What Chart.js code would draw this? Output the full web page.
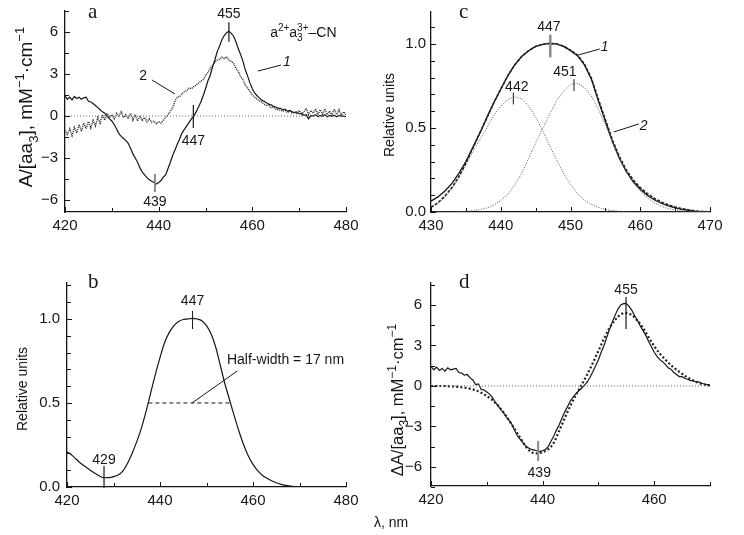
<!DOCTYPE html>
<html><head><meta charset="utf-8">
<script src="https://cdn.jsdelivr.net/npm/chart.js@4/dist/chart.umd.min.js"></script>
<style>
html,body{margin:0;padding:0;background:#fff;}
#wrap{position:relative;width:744px;height:535px;overflow:hidden;background:#fff;}
canvas{position:absolute;}
</style></head><body>
<div id="wrap">
<canvas id="ca" width="372" height="268" style="left:0;top:0;width:372px;height:268px"></canvas>
<canvas id="cc" width="372" height="268" style="left:372px;top:0;width:372px;height:268px"></canvas>
<canvas id="cb" width="372" height="267" style="left:0;top:268px;width:372px;height:267px"></canvas>
<canvas id="cd" width="372" height="267" style="left:372px;top:268px;width:372px;height:267px"></canvas>
</div>
<script>
// ---------------- DATA ----------------
// Panel a: difference spectra, 0.5 nm grid
const wlA = [420,420.5,421,421.5,422,422.5,423,423.5,424,424.5,425,425.5,426,426.5,427,427.5,428,428.5,429,429.5,430,430.5,431,431.5,432,432.5,433,433.5,434,434.5,435,435.5,436,436.5,437,437.5,438,438.5,439,439.5,440,440.5,441,441.5,442,442.5,443,443.5,444,444.5,445,445.5,446,446.5,447,447.5,448,448.5,449,449.5,450,450.5,451,451.5,452,452.5,453,453.5,454,454.5,455,455.5,456,456.5,457,457.5,458,458.5,459,459.5,460,460.5,461,461.5,462,462.5,463,463.5,464,464.5,465,465.5,466,466.5,467,467.5,468,468.5,469,469.5,470,470.5,471,471.5,472,472.5,473,473.5,474,474.5,475,475.5,476,476.5,477,477.5,478,478.5,479,479.5,480];
const curveA1 = [1.45,1.2,1.35,1.15,1.4,1.25,1.35,1.2,1.3,1.35,
1.05,1.0,0.9,0.75,0.6,0.45,0.3,0.2,0.0,-0.2,
-0.35,-0.6,-0.9,-1.25,-1.45,-1.6,-1.75,-1.95,-2.3,-2.7,
-3.0,-3.3,-3.7,-4.0,-4.2,-4.4,-4.55,-4.65,-4.75,-4.85,
-4.75,-4.6,-4.35,-4.2,-3.75,-3.3,-2.8,-2.4,-2.0,-1.6,
-1.2,-0.95,-0.7,-0.45,-0.2,0.0,0.3,0.65,1.0,1.45,
1.95,2.5,2.9,3.5,4.0,4.6,5.0,5.45,5.75,5.95,
6.05,5.9,5.7,5.3,4.8,4.4,3.9,3.3,2.85,2.35,
1.95,1.65,1.45,1.3,1.15,1.05,0.95,0.85,0.8,0.7,
0.65,0.55,0.55,0.45,0.5,0.35,0.4,0.3,0.25,0.3,
0.15,0.2,0.05,0.1,-0.2,0.05,0.0,0.1,-0.05,0.05,
0.0,0.1,-0.05,0.05,0.0,0.05,-0.05,0.05,0.0,0.0,
-0.05];
const curveA2 = [-1.0,-1.3,-0.9,-1.4,-0.8,-1.2,-0.6,-1.1,-0.5,-0.9,
-0.4,-0.85,-0.3,-0.7,-0.1,-0.5,0.1,-0.3,0.2,-0.1,
0.1,-0.2,0.2,0.0,0.3,-0.1,0.1,-0.2,0.2,-0.3,
0.1,-0.35,0.0,-0.3,-0.1,-0.4,-0.2,-0.45,-0.35,-0.55,
-0.4,-0.5,-0.3,-0.1,0.1,0.35,0.6,1.1,1.35,1.4,
1.6,1.75,1.8,2.0,1.95,2.1,2.2,2.35,2.5,2.6,
2.9,3.1,3.4,3.6,3.85,4.0,4.05,4.2,4.1,4.25,
4.0,3.9,3.75,3.4,3.2,2.8,2.6,2.2,2.0,1.75,
1.5,1.35,1.2,1.1,1.0,0.85,0.75,0.8,0.6,0.65,
0.5,0.45,0.4,0.35,0.4,0.25,0.35,0.2,0.3,0.15,
0.4,0.1,0.3,0.55,0.1,0.4,0.2,0.5,0.1,0.45,
0.15,0.5,0.1,0.35,0.05,0.5,0.1,0.45,0.05,0.3,
0.1];
const zeroAx = [420, 480], zeroAy = [0, 0];
const xTicksA = [420, 440, 460, 480], xMinorA = [430, 450, 470];
const yTicksA = [-6, -3, 0, 3, 6], yMinorA = [-4.5, -1.5, 1.5, 4.5, 7.5];

// Panel b: single band, 1 nm grid
const wlB = [420,421,422,423,424,425,426,427,428,429,430,431,432,433,434,435,436,437,438,439,440,441,442,443,444,445,446,447,448,449,450,451,452,453,454,455,456,457,458,459,460,461,462,463,464,465,466,467,468,469,470,471,472,473,474,475,476,477,478,479,480];
const curveB = [0.21,0.19,0.165,0.14,0.12,0.1,0.082,0.065,0.055,0.056,
0.062,0.072,0.095,0.14,0.2,0.27,0.35,0.45,0.56,0.67,
0.77,0.86,0.92,0.96,0.985,0.997,1.0,1.003,1.0,0.99,
0.96,0.91,0.83,0.72,0.61,0.515,0.42,0.33,0.25,0.185,
0.135,0.097,0.07,0.052,0.037,0.025,0.016,0.01,0.006,0.003,
0.001,0,0,0,0,0,0,0,0,0,
0];
const halfWidthX = [437.5, 455.3], halfWidthY = [0.5, 0.5];
const xTicksB = [420, 440, 460, 480], xMinorB = [430, 450, 470];
const yTicksB = [0, 0.5, 1.0], yMinorB = [0.1,0.2,0.3,0.4,0.6,0.7,0.8,0.9,1.1,1.2];

// Panel c: band and its two gaussian components, 1 nm grid
const wlC = [430,431,432,433,434,435,436,437,438,439,440,441,442,443,444,445,446,447,448,449,450,451,452,453,454,455,456,457,458,459,460,461,462,463,464,465,466,467,468,469,470];
const curveC1 = [0.065,0.09,0.125,0.17,0.23,0.30,0.385,0.47,0.56,0.65,
0.73,0.81,0.875,0.925,0.96,0.985,0.997,1.003,1.0,0.985,
0.96,0.93,0.875,0.79,0.66,0.54,0.42,0.32,0.24,0.18,
0.135,0.1,0.073,0.052,0.036,0.024,0.015,0.009,0.004,0.002,
0];
const curveC2 = [0.028,0.055,0.095,0.145,0.21,0.29,0.38,0.47,0.56,0.65,
0.73,0.81,0.875,0.925,0.96,0.985,0.997,1.003,1.0,0.987,
0.963,0.935,0.88,0.795,0.67,0.55,0.43,0.33,0.25,0.19,
0.145,0.11,0.082,0.06,0.043,0.03,0.02,0.012,0.006,0.003,
0.001];
const comp442 = [0.025,0.05,0.09,0.14,0.2,0.28,0.36,0.43,0.5,0.575,
0.63,0.67,0.685,0.675,0.63,0.565,0.485,0.395,0.31,0.23,
0.165,0.11,0.07,0.045,0.027,0.015,0.008,0.004,0.002,0.001,
0,0,0,0,0,0,0,0,0,0,
0];
const comp451 = [0,0,0,0,0.001,0.004,0.007,0.014,0.024,0.041,
0.067,0.104,0.16,0.23,0.32,0.41,0.495,0.58,0.66,0.72,
0.76,0.765,0.74,0.69,0.61,0.52,0.42,0.32,0.24,0.175,
0.125,0.085,0.055,0.034,0.02,0.012,0.006,0.003,0.001,0,
0];
const xTicksC = [430, 440, 450, 460, 470], xMinorC = [435, 445, 455, 465];
const yTicksC = [0, 0.5, 1.0], yMinorC = [0.1,0.2,0.3,0.4,0.6,0.7,0.8,0.9,1.1];

// Panel d: experimental difference spectrum (0.5 nm) and its fit (1 nm)
const wlD = [420,420.5,421,421.5,422,422.5,423,423.5,424,424.5,425,425.5,426,426.5,427,427.5,428,428.5,429,429.5,430,430.5,431,431.5,432,432.5,433,433.5,434,434.5,435,435.5,436,436.5,437,437.5,438,438.5,439,439.5,440,440.5,441,441.5,442,442.5,443,443.5,444,444.5,445,445.5,446,446.5,447,447.5,448,448.5,449,449.5,450,450.5,451,451.5,452,452.5,453,453.5,454,454.5,455,455.5,456,456.5,457,457.5,458,458.5,459,459.5,460,460.5,461,461.5,462,462.5,463,463.5,464,464.5,465,465.5,466,466.5,467,467.5,468,468.5,469,469.5,470];
const curveD1 = [1.45,1.2,1.4,1.15,1.3,1.1,1.35,1.2,1.25,1.3,
1.0,0.95,0.8,0.85,0.6,0.45,0.1,0.15,-0.25,-0.3,
-0.45,-0.6,-0.85,-1.2,-1.45,-1.75,-2.0,-2.3,-2.55,-2.85,
-3.3,-3.7,-3.95,-4.2,-4.45,-4.6,-4.7,-4.75,-4.8,-4.85,
-4.8,-4.7,-4.5,-4.1,-3.7,-3.25,-2.85,-2.35,-1.9,-1.5,
-1.1,-0.8,-0.55,-0.35,-0.15,0.05,0.3,0.65,1.05,1.5,
1.95,2.5,3.0,3.6,4.2,4.75,5.25,5.7,6.0,6.1,
6.1,5.9,5.6,5.2,4.85,4.45,4.1,3.75,3.3,2.9,
2.5,2.2,1.95,1.8,1.6,1.35,1.25,1.0,0.85,0.7,
0.7,0.55,0.5,0.4,0.4,0.3,0.3,0.2,0.15,0.1,
0.05];
const wlD1 = [420,421,422,423,424,425,426,427,428,429,430,431,432,433,434,435,436,437,438,439,440,441,442,443,444,445,446,447,448,449,450,451,452,453,454,455,456,457,458,459,460,461,462,463,464,465,466,467,468,469,470];
const fitD = [0.0,0.0,0.0,-0.02,-0.04,-0.07,-0.12,-0.2,-0.32,-0.5,
-0.75,-1.05,-1.45,-1.95,-2.55,-3.2,-3.85,-4.5,-4.9,-5.0,
-4.9,-4.7,-4.2,-3.3,-2.35,-1.45,-0.65,0.1,0.85,1.7,
2.6,3.5,4.3,4.9,5.3,5.4,5.25,4.85,4.3,3.6,
2.95,2.4,1.95,1.55,1.2,0.9,0.62,0.4,0.22,0.1,
0.04];
const zeroDx = [420, 470], zeroDy = [0, 0];
const xTicksD = [420, 440, 460], xMinorD = [430, 450, 470];
const yTicksD = [-6, -3, 0, 3, 6], yMinorD = [-7.5, -4.5, -1.5, 1.5, 4.5, 7.5];

// ---------------- RENDERING ----------------
const SANS = '"Liberation Sans", Arial, Helvetica, sans-serif';
const SERIF = '"Liberation Serif", "Times New Roman", serif';
const INK = '#161616';
const zip = (xs, ys) => xs.map((x, i) => ({x: x, y: ys[i]}));

function richRun(ctx, segs, x, y, size, draw) {
  const big = size + 'px ' + SANS, small = Math.round(size * 0.7) + 'px ' + SANS;
  let cx = x;
  for (const [t, m] of segs) {
    if (m === 'ss') {
      ctx.font = small;
      const w = Math.max(ctx.measureText(t[0]).width, ctx.measureText(t[1]).width);
      if (draw) { ctx.fillText(t[0], cx, y + size * 0.3); ctx.fillText(t[1], cx, y - size * 0.42); }
      cx += w;
    } else if (m === 'sup' || m === 'sub') {
      ctx.font = small;
      if (draw) ctx.fillText(t, cx, y + (m === 'sup' ? -size * 0.42 : size * 0.3));
      cx += ctx.measureText(t).width;
    } else {
      ctx.font = big;
      if (draw) ctx.fillText(t, cx, y);
      cx += ctx.measureText(t).width;
    }
  }
  return cx - x;
}

function annotPlugin(A) {
  return {
    id: 'annot',
    afterDraw(chart) {
      const ctx = chart.ctx, area = chart.chartArea;
      const xs = chart.scales.x, ys = chart.scales.y;
      const X = v => xs.getPixelForValue(v), Y = v => ys.getPixelForValue(v);
      ctx.save();
      ctx.strokeStyle = INK; ctx.fillStyle = INK; ctx.lineWidth = 1;
      // inward tick marks
      const xt = (arr, len) => arr.forEach(v => { const p = Math.round(X(v)) + 0.5; ctx.beginPath(); ctx.moveTo(p, area.bottom); ctx.lineTo(p, area.bottom - len); ctx.stroke(); });
      const yt = (arr, len) => arr.forEach(v => { const p = Math.round(Y(v)) + 0.5; ctx.beginPath(); ctx.moveTo(area.left, p); ctx.lineTo(area.left + len, p); ctx.stroke(); });
      xt(A.xMaj, 5); xt(A.xMin, 4); yt(A.yMaj, 5); yt(A.yMin, 4);
      // peak markers
      (A.markers || []).forEach(m => {
        ctx.strokeStyle = m.c || INK; ctx.lineWidth = m.w || 1.2;
        ctx.beginPath(); ctx.moveTo(X(m.x), Y(m.y1)); ctx.lineTo(X(m.x), Y(m.y2)); ctx.stroke();
      });
      // leader lines
      ctx.strokeStyle = INK; ctx.lineWidth = 1;
      (A.leaders || []).forEach(l => {
        ctx.beginPath(); ctx.moveTo(X(l.x1), Y(l.y1)); ctx.lineTo(X(l.x2), Y(l.y2)); ctx.stroke();
      });
      // numeric / curve labels
      ctx.textBaseline = 'middle';
      (A.labels || []).forEach(l => {
        ctx.font = (l.it ? 'italic ' : '') + (l.s || 14) + 'px ' + SANS;
        ctx.textAlign = l.al || 'center';
        ctx.fillText(l.t, X(l.x), Y(l.y));
      });
      ctx.textAlign = 'left'; ctx.textBaseline = 'alphabetic';
      // rich inline text
      (A.rich || []).forEach(r => richRun(ctx, r.segs, X(r.x), Y(r.y), r.s || 14, true));
      // panel letter
      if (A.letter) {
        ctx.font = '21px ' + SERIF;
        ctx.fillText(A.letter.t, X(A.letter.x), Y(A.letter.y));
      }
      // y axis title (rotated)
      if (A.yTitle) {
        const t = A.yTitle;
        const w = richRun(ctx, t.segs, 0, 0, t.s, false);
        ctx.save();
        ctx.translate(t.cx, t.cy);
        ctx.rotate(-Math.PI / 2);
        richRun(ctx, t.segs, -w / 2, t.s * 0.36, t.s, true);
        ctx.restore();
      }
      // free text (x axis title)
      (A.texts || []).forEach(t => {
        ctx.font = (t.s || 14) + 'px ' + SANS;
        ctx.fillText(t.t, t.px, t.py);
      });
      ctx.restore();
    }
  };
}

function makeChart(id, o) {
  const minus = v => (v < 0 ? '\u2212' + Math.abs(v) : String(v));
  return new Chart(document.getElementById(id), {
    type: 'line',
    data: {datasets: o.datasets},
    options: {
      responsive: false, animation: false, devicePixelRatio: 1,
      layout: {padding: o.pad},
      events: [],
      plugins: {legend: {display: false}, tooltip: {enabled: false}},
      elements: {point: {radius: 0}, line: {tension: 0}},
      scales: {
        x: {
          type: 'linear', min: o.xr[0], max: o.xr[1],
          afterFit(s) { s.height = 30; s.paddingLeft = 0; s.paddingRight = 0; },
          afterBuildTicks(s) { s.ticks = o.xt.map(v => ({value: v})); },
          grid: {display: false, drawTicks: false, tickLength: 0}, border: {display: true, color: INK, width: 1.3},
          ticks: {font: {family: SANS, size: 15}, color: INK, padding: o.xpad, autoSkip: false, maxRotation: 0, callback: v => String(v)}
        },
        y: {
          type: 'linear', min: o.yr[0], max: o.yr[1],
          afterFit(s) { s.width = o.yw; s.paddingTop = 0; s.paddingBottom = 0; },
          afterBuildTicks(s) { s.ticks = o.yt.map(v => ({value: v})); },
          grid: {display: false, drawTicks: false, tickLength: 0}, border: {display: true, color: INK, width: 1.3},
          ticks: {font: {family: SANS, size: 15}, color: INK, padding: o.ypad, autoSkip: false,
                  callback: o.dec ? (v => v.toFixed(1)) : minus}
        }
      }
    },
    plugins: [annotPlugin(o.annot)]
  });
}

const solid = (data, w) => ({data, borderColor: INK, borderWidth: w || 1.2, pointRadius: 0, fill: false});
const dotted = (data, col, w, dash) => ({data, borderColor: col, borderWidth: w, borderDash: dash, pointRadius: 0, fill: false});

const concTitle = pre => [[pre + 'A/[aa', ''], ['3', 'sub'], ['], mM', ''], ['\u22121', 'sup'], ['\u00b7cm', ''], ['\u22121', 'sup']];

// ---- panel a ----
makeChart('ca', {
  pad: {left: 0, right: 26, top: 11, bottom: 26}, yw: 65, xpad: 5, ypad: 7,
  xr: [420, 480], yr: [-6.85, 7.5], xt: xTicksA, yt: yTicksA,
  datasets: [
    dotted(zip(zeroAx, zeroAy), '#666', 1, [1, 2]),
    dotted(zip(wlA, curveA2), '#222', 1.4, [1, 1]),
    solid(zip(wlA, curveA1), 1.2)
  ],
  annot: {
    xMaj: xTicksA, xMin: xMinorA, yMaj: yTicksA, yMin: yMinorA,
    markers: [{x: 455, y1: 6.7, y2: 5.3}, {x: 447.4, y1: 0.79, y2: -0.86}, {x: 439.2, y1: -4.14, y2: -5.43, c: '#8a8a8a', w: 2}],
    labels: [{x: 455, y: 7.29, t: '455'}, {x: 447.4, y: -1.79, t: '447'}, {x: 439.2, y: -6.14, t: '439'},
             {x: 436.7, y: 2.86, t: '2'}, {x: 467.4, y: 3.86, t: '1', it: true}],
    leaders: [{x1: 438.6, y1: 2.57, x2: 443.5, y2: 1.57}, {x1: 461.2, y1: 3.21, x2: 466.1, y2: 3.64}],
    rich: [{x: 463.8, y: 5.64, s: 14, segs: [['a', ''], ['2+', 'sup'], ['a', ''], [['3', '3+'], 'ss'], ['\u2013CN', '']]}],
    letter: {x: 424.9, y: 7.0, t: 'a'},
    yTitle: {cx: 25, cy: 107, s: 19, segs: concTitle('')}
  }
});

// ---- panel c ----
makeChart('cc', {
  pad: {left: 0, right: 34, top: 12, bottom: 26}, yw: 59, xpad: 5, ypad: 5, dec: true,
  xr: [430, 470], yr: [0, 1.19], xt: xTicksC, yt: yTicksC,
  datasets: [
    dotted(zip(wlC, comp442), '#555', 1, [1, 1.5]),
    dotted(zip(wlC, comp451), '#555', 1, [1, 1.5]),
    dotted(zip(wlC, curveC2), '#222', 1.6, [3, 1.5]),
    solid(zip(wlC, curveC1), 1.3)
  ],
  annot: {
    xMaj: xTicksC, xMin: xMinorC, yMaj: yTicksC, yMin: yMinorC,
    markers: [{x: 447.1, y1: 1.055, y2: 0.92, c: '#8a8a8a', w: 2.5}, {x: 441.8, y1: 0.71, y2: 0.64, w: 1}, {x: 450.5, y1: 0.79, y2: 0.72, w: 1}],
    labels: [{x: 446.9, y: 1.10, t: '447'}, {x: 442.3, y: 0.74, t: '442'}, {x: 449.2, y: 0.83, t: '451'},
             {x: 454.9, y: 0.98, t: '1', it: true}, {x: 460.5, y: 0.51, t: '2', it: true}],
    leaders: [{x1: 451.2, y1: 0.935, x2: 454.2, y2: 0.97}, {x1: 456.2, y1: 0.476, x2: 459.8, y2: 0.524}],
    letter: {x: 434.0, y: 1.155, t: 'c'},
    yTitle: {cx: 17, cy: 115, s: 14, segs: [['Relative units', '']]}
  }
});

// ---- panel b ----
makeChart('cb', {
  pad: {left: 0, right: 26, top: 15, bottom: 18}, yw: 67, xpad: 5, ypad: 7, dec: true,
  xr: [420, 480], yr: [0, 1.214], xt: xTicksB, yt: yTicksB,
  datasets: [
    dotted(zip(halfWidthX, halfWidthY), INK, 1, [4, 3]),
    Object.assign(solid(zip(wlB, curveB), 1.2), {cubicInterpolationMode: 'monotone'})
  ],
  annot: {
    xMaj: xTicksB, xMin: xMinorB, yMaj: yTicksB, yMin: yMinorB,
    markers: [{x: 447, y1: 1.048, y2: 0.94, w: 1}, {x: 427.96, y1: 0.125, y2: -0.006, w: 1.2}],
    labels: [{x: 447, y: 1.107, t: '447'}, {x: 427.96, y: 0.16, t: '429'},
             {x: 454.4, y: 0.753, t: 'Half-width = 17 nm', al: 'left'}],
    leaders: [{x1: 446.9, y1: 0.5, x2: 456.6, y2: 0.69}],
    letter: {x: 424.5, y: 1.185, t: 'b'},
    yTitle: {cx: 22, cy: 121, s: 14, segs: [['Relative units', '']]}
  }
});

// ---- panel d ----
makeChart('cd', {
  pad: {left: 0, right: 34, top: 15, bottom: 19}, yw: 59, xpad: 5, ypad: 9,
  xr: [420, 470], yr: [-7.41, 7.63], xt: xTicksD, yt: yTicksD,
  datasets: [
    dotted(zip(zeroDx, zeroDy), '#666', 1, [1, 2]),
    Object.assign(dotted(zip(wlD1, fitD), '#222', 2.2, [2, 2.2]), {cubicInterpolationMode: 'monotone'}),
    solid(zip(wlD, curveD1), 1.2)
  ],
  annot: {
    xMaj: xTicksD, xMin: xMinorD, yMaj: yTicksD, yMin: yMinorD,
    markers: [{x: 454.95, y1: 6.59, y2: 4.22}, {x: 439.2, y1: -4.07, y2: -5.56, c: '#8a8a8a', w: 2}],
    labels: [{x: 454.95, y: 7.1, t: '455'}, {x: 439.4, y: -6.44, t: '439'}],
    letter: {x: 425.0, y: 7.26, t: 'd'},
    yTitle: {cx: 25, cy: 132, s: 16.5, segs: concTitle('\u0394')},
    texts: [{t: '\u03bb, nm', px: 2, py: 259, s: 14}]
  }
});
</script>
</body></html>
